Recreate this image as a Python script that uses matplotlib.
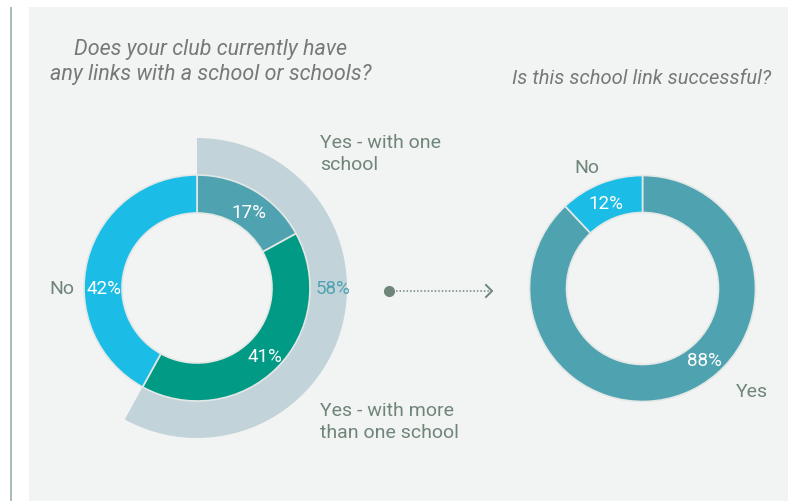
import matplotlib
matplotlib.use("Agg")
import matplotlib.pyplot as plt
from matplotlib.patches import Rectangle

plt.rcParams['font.family'] = ['Roboto', 'DejaVu Sans']

# Survey data
links_labels = ["Yes - with one\nschool", "Yes - with more\nthan one school", "No"]
links_values = [17, 41, 42]
links_yes_total = 58
success_labels = ["Yes", "No"]
success_values = [88, 12]

title_left = "Does your club currently have\nany links with a school or schools?"
title_right = "Is this school link successful?"

C_PANEL = "#f2f4f3"
C_RING = "#c2d3da"
C_TEAL = "#4fa3b1"
C_GREEN = "#009a85"
C_SKY = "#1bbde6"
C_LABEL = "#6f8579"
C_TITLE = "#75797a"
C_EDGE = "#e3e8e6"

W, H = 801, 502
fig = plt.figure(figsize=(W / 100, H / 100), dpi=100)
ax = fig.add_axes([0, 0, 1, 1])

def Y(py):
    return H - py

# background panel and side rule
ax.add_patch(Rectangle((29, 0), 759, Y(8), facecolor=C_PANEL, edgecolor="none", zorder=0))
ax.add_patch(Rectangle((9.5, 0), 2.5, Y(8), facecolor="#a9bdb5", edgecolor="none", zorder=0))

# left chart: outer "yes" band and inner breakdown ring
cl = (197, Y(289))
ax.pie([links_yes_total, 100 - links_yes_total], colors=[C_RING, "none"],
       startangle=90, counterclock=False, center=cl, radius=150,
       wedgeprops=dict(width=37, edgecolor="none"), frame=True)
ax.pie(links_values, colors=[C_TEAL, C_GREEN, C_SKY],
       startangle=90, counterclock=False, center=cl, radius=113,
       wedgeprops=dict(width=38, edgecolor=C_EDGE, linewidth=1.2), frame=True)

# right chart
cr = (642.5, Y(289.5))
ax.pie(success_values, colors=[C_TEAL, C_SKY],
       startangle=90, counterclock=False, center=cr, radius=113,
       wedgeprops=dict(width=37, edgecolor=C_EDGE, linewidth=1.2), frame=True)

ax.set_xlim(0, W)
ax.set_ylim(0, H)
ax.set_aspect("equal")
ax.axis("off")

fs_lab = 14
fs_pct = 13.5

# titles
ax.text(211, Y(62), title_left, ha="center", va="center", fontsize=15.5,
        style="italic", color=C_TITLE, linespacing=1.25)
ax.text(642, Y(78), title_right, ha="center", va="center", fontsize=14.5,
        style="italic", color=C_TITLE)

# left percentages
ax.text(249, Y(213), f"{links_values[0]}%", ha="center", va="center", fontsize=fs_pct, color="white")
ax.text(265, Y(357), f"{links_values[1]}%", ha="center", va="center", fontsize=fs_pct, color="white")
ax.text(104, Y(289), f"{links_values[2]}%", ha="center", va="center", fontsize=fs_pct, color="white")
ax.text(333, Y(289), f"{links_yes_total}%", ha="center", va="center", fontsize=fs_pct, color=C_TEAL)

# left category labels
ax.text(62, Y(289), links_labels[2], ha="center", va="center", fontsize=fs_lab, color=C_LABEL)
ax.text(320, Y(154), links_labels[0], ha="left", va="center", fontsize=fs_lab, color=C_LABEL, linespacing=1.3)
ax.text(320, Y(422), links_labels[1], ha="left", va="center", fontsize=fs_lab, color=C_LABEL, linespacing=1.3)

# right labels
ax.text(606, Y(204), f"{success_values[1]}%", ha="center", va="center", fontsize=fs_pct, color="white")
ax.text(704, Y(361), f"{success_values[0]}%", ha="center", va="center", fontsize=fs_pct, color="white")
ax.text(587, Y(168), success_labels[1], ha="center", va="center", fontsize=fs_lab, color=C_LABEL)
ax.text(752, Y(392), success_labels[0], ha="center", va="center", fontsize=fs_lab, color=C_LABEL)

# connector arrow
ax.plot([389, 490], [Y(292), Y(292)], linestyle=(0, (1, 1.3)), color=C_LABEL, linewidth=1.1)
ax.plot([389], [Y(292)], marker="o", markersize=7, color=C_LABEL)
ax.plot([486, 492, 486], [Y(286), Y(292), Y(298)], color=C_LABEL, linewidth=1.4,
        solid_joinstyle="miter")

fig.savefig("out.png", dpi=100, facecolor="white")
